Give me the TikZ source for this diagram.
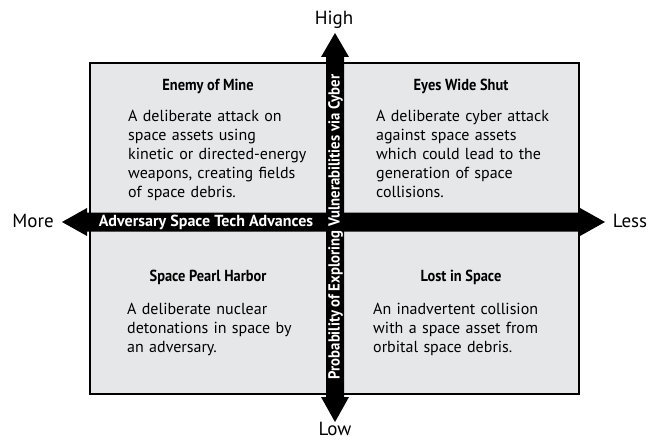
\documentclass[tikz,border=0pt]{standalone}
\usepackage{fontspec}
\setmainfont{PT Sans}
\newfontfamily\condfont[FakeStretch=0.9]{PT Sans}
\newfontfamily\semicondfont[FakeStretch=0.92]{PT Sans}
\newfontfamily\bodyfont[FakeStretch=1.0]{PT Sans}
\usetikzlibrary{calc}
\definecolor{quadfill}{HTML}{E6E7E8}
\tikzset{
  quadbody/.style={anchor=base west, inner sep=0pt, align=left, text width=215pt,
    font=\bodyfont\fontsize{16}{19}\selectfont},
  quadtitle/.style={anchor=base, inner sep=0pt, font=\condfont\bfseries\fontsize{16}{18}\selectfont},
  axislabel/.style={inner sep=0pt, font=\fontsize{19}{22}\selectfont},
  arrowtext/.style={inner sep=0pt, text=white, font=\bfseries\fontsize{16}{18}\selectfont},
  varrowtext/.style={inner sep=0pt, text=white, font=\semicondfont\bfseries\fontsize{16}{18}\selectfont},
  axisfill/.style={fill=black},
}
\begin{document}
\begin{tikzpicture}[x=1pt,y=-1pt]
\useasboundingbox (0,0) rectangle (651,441);
% frame
\node[draw=black, line width=1.6pt, fill=quadfill, minimum width=489pt, minimum height=331pt, inner sep=0pt, anchor=north west] (frame) at (89,62) {};
% axis end points
\coordinate (L) at (62,222);
\coordinate (R) at (605,222);
\coordinate (T) at (335,33);
\coordinate (B) at (335,422);
% horizontal arrow
\fill[axisfill] (L) -- ($(L)+(25,-14)$) -- ($(L)+(25,-9.5)$) -- ($(R)+(-25,-9.5)$) -- ($(R)+(-25,-14)$) -- (R)
  -- ($(R)+(-25,14)$) -- ($(R)+(-25,9.5)$) -- ($(L)+(25,9.5)$) -- ($(L)+(25,14)$) -- cycle;
% vertical arrow
\fill[axisfill] (T) -- ($(T)+(14,24)$) -- ($(T)+(9,24)$) -- ($(B)+(9,-25)$) -- ($(B)+(14,-25)$) -- (B)
  -- ($(B)+(-14,-25)$) -- ($(B)+(-9,-25)$) -- ($(T)+(-9,24)$) -- ($(T)+(-14,24)$) -- cycle;
% arrow texts
\node[arrowtext] (htext) at (206,222) {Adversary Space Tech Advances};
\node[varrowtext, rotate=90] (vtext) at (335.5,227) {Probability of Exploring Vulnerabilities via Cyber};
% axis labels
\node[axislabel] (high) at (334,20) {High};
\node[axislabel] (low) at (335,429) {Low};
\node[axislabel] (more) at (33,221) {More};
\node[axislabel] (less) at (630,221) {Less};
% quadrants
\node[quadtitle] (t1) at (208,91) {Enemy of Mine};
\node[quadbody] (b1) at (128,122) {A deliberate attack on\\space assets using\\kinetic or directed-energy\\weapons, creating fields\\of space debris.};
\node[quadtitle] (t2) at (461,91) {Eyes Wide Shut};
\node[quadbody] (b2) at (376,122) {A deliberate cyber attack\\against space assets\\which could lead to the\\generation of space\\collisions.};
\node[quadtitle] (t3) at (208,281) {Space Pearl Harbor};
\node[quadbody] (b3) at (127,314) {A deliberate nuclear\\detonations in space by\\an adversary.};
\node[quadtitle] (t4) at (461,281) {Lost in Space};
\node[quadbody] (b4) at (373,314) {An inadvertent collision\\with a space asset from\\orbital space debris.};
\end{tikzpicture}
\end{document}
